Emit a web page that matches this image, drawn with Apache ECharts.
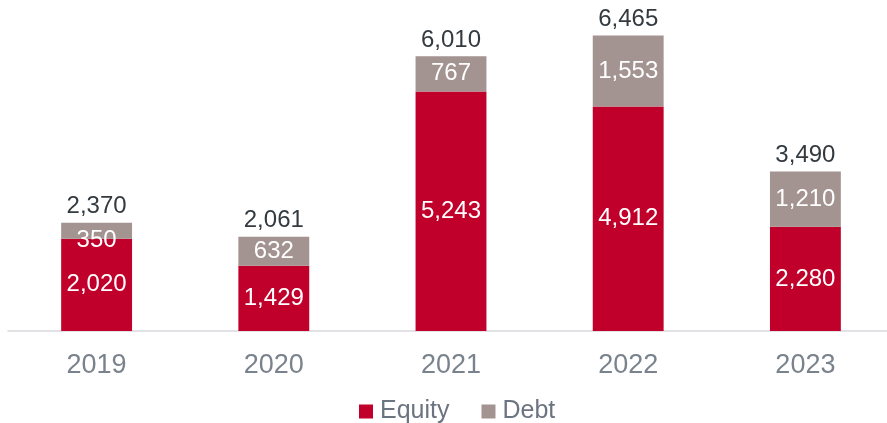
<!DOCTYPE html>
<html>
<head>
<meta charset="utf-8">
<script src="https://cdn.jsdelivr.net/npm/echarts@6/dist/echarts.min.js"></script>
<style>
  html, body { margin: 0; padding: 0; background: #fff; }
  #chart { width: 887px; height: 423px; }
</style>
</head>
<body>
<div id="chart"></div>
<script>
// Annual capital raised, split by equity and debt
const years = ['2019', '2020', '2021', '2022', '2023'];
const equity = [2020, 1429, 5243, 4912, 2280];
const debt = [350, 632, 767, 1553, 1210];
const totals = [2370, 2061, 6010, 6465, 3490];

const fmt = v => v.toLocaleString('en-US');
const FONT = '"Liberation Sans", Arial, sans-serif';

// very thin segments get their label nudged downward so it stays readable
const debtData = debt.map(v => (v < 500 ? { value: v, label: { offset: [0, 10] } } : v));

const chart = echarts.init(document.getElementById('chart'), null, { renderer: 'canvas' });
chart.setOption({
  animation: false,
  textStyle: { fontFamily: FONT },
  grid: {
    left: 8, width: 886, top: 12, bottom: 92,
    containLabel: false,
    outerBoundsMode: 'none'
  },
  legend: {
    data: ['Equity', 'Debt'],
    top: 394,
    left: 354,
    itemWidth: 14,
    itemHeight: 14,
    itemGap: 32,
    icon: 'rect',
    textStyle: { color: '#6b7480', fontSize: 25, fontFamily: FONT, padding: [0, 0, 0, 2] }
  },
  xAxis: {
    type: 'category',
    data: years,
    axisLine: { lineStyle: { color: '#d9d9de', width: 1.5 } },
    axisTick: { show: false },
    axisLabel: { color: '#7a838d', fontSize: 27, margin: 21, fontFamily: FONT }
  },
  yAxis: {
    type: 'value',
    min: 0,
    max: 6980,
    show: false,
    splitLine: { show: false }
  },
  series: [
    {
      name: 'Equity',
      type: 'bar',
      stack: 'total',
      barWidth: '40%',
      data: equity,
      itemStyle: { color: '#c0002b' },
      label: {
        show: true,
        position: 'inside',
        color: '#ffffff',
        fontSize: 24,
        fontFamily: FONT,
        formatter: p => fmt(p.value)
      }
    },
    {
      name: 'Debt',
      type: 'bar',
      stack: 'total',
      barWidth: '40%',
      data: debtData,
      itemStyle: { color: '#a39391' },
      label: {
        show: true,
        position: 'inside',
        color: '#ffffff',
        fontSize: 24,
        fontFamily: FONT,
        formatter: p => fmt(p.value)
      }
    },
    {
      // invisible series carrying the total labels above each stack
      name: 'Total',
      type: 'bar',
      stack: 'total',
      barWidth: '40%',
      data: totals.map(() => 0),
      itemStyle: { color: 'transparent' },
      label: {
        show: true,
        position: 'top',
        distance: 4,
        color: '#333a40',
        fontSize: 24,
        fontFamily: FONT,
        formatter: p => fmt(totals[p.dataIndex])
      }
    }
  ]
});
</script>
</body>
</html>
